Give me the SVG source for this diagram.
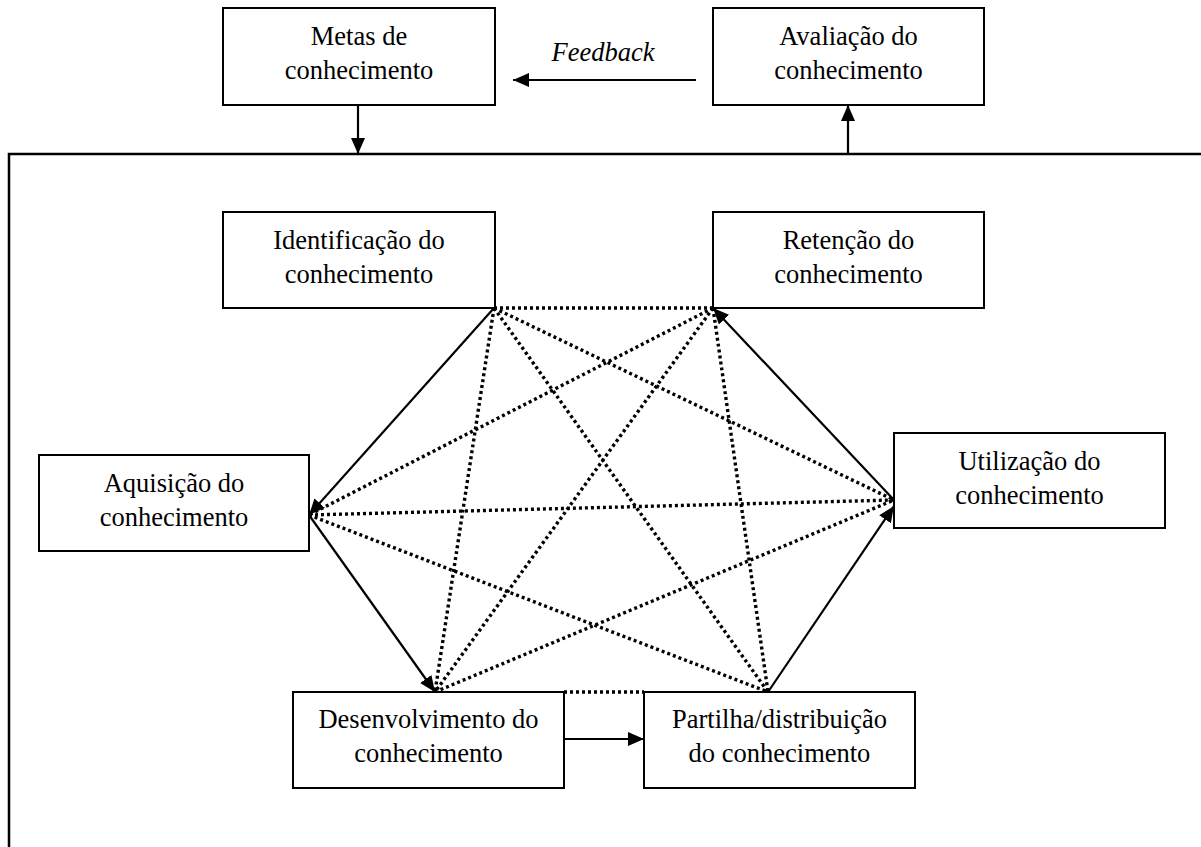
<svg xmlns="http://www.w3.org/2000/svg" width="1201" height="847" viewBox="0 0 1201 847">
<style>
.box{fill:#fff;stroke:#000;stroke-width:2}
.t{font-family:"Liberation Serif","Times New Roman",serif;font-size:26.5px;text-anchor:middle;fill:#000}
.it{font-style:italic}
.arr{stroke:#000;stroke-width:2.2;fill:none;marker-end:url(#ah)}
.dot{stroke:#000;stroke-width:3.4;stroke-dasharray:3 3;fill:none}
.frame{stroke:#000;stroke-width:2.5;fill:none}
</style>
<defs>
<marker id="ah" markerUnits="userSpaceOnUse" markerWidth="17" markerHeight="15" refX="16" refY="7" orient="auto">
<path d="M0,0 L16,7 L0,14 z" fill="#000"/>
</marker>
</defs>
<rect width="1201" height="847" fill="#fff"/>
<g id="frame">
<path class="frame" d="M9,847 L9,154 L1201,154"/>
</g>
<g id="connectors">
<line class="dot" x1="494" y1="308" x2="713" y2="308"/>
<line class="dot" x1="494" y1="308" x2="435" y2="692"/>
<line class="dot" x1="494" y1="308" x2="768" y2="692"/>
<line class="dot" x1="494" y1="308" x2="894" y2="500"/>
<line class="dot" x1="713" y1="308" x2="309" y2="515"/>
<line class="dot" x1="713" y1="308" x2="435" y2="692"/>
<line class="dot" x1="713" y1="308" x2="768" y2="692"/>
<line class="dot" x1="309" y1="515" x2="894" y2="500"/>
<line class="dot" x1="309" y1="515" x2="768" y2="692"/>
<line class="dot" x1="435" y1="692" x2="894" y2="500"/>
<line class="dot" x1="564" y1="692" x2="644" y2="692"/>
<line class="arr" x1="494" y1="308" x2="309" y2="515"/>
<line class="arr" x1="309" y1="515" x2="435" y2="692"/>
<line class="arr" x1="564" y1="739" x2="644" y2="739"/>
<line class="arr" x1="768" y1="692" x2="894" y2="506"/>
<line class="arr" x1="894" y1="500" x2="713" y2="308"/>
<line class="arr" x1="358" y1="105" x2="358" y2="154"/>
<line class="arr" x1="848" y1="154" x2="848" y2="105"/>
<line class="arr" x1="696" y1="80" x2="513" y2="80"/>
<text class="t it" x="603" y="61">Feedback</text>
</g>
<g id="metas">
<rect class="box" x="223" y="8" width="272" height="97"/>
<text class="t" x="359" y="45">Metas de</text>
<text class="t" x="359" y="79">conhecimento</text>
</g>
<g id="avaliacao">
<rect class="box" x="713" y="8" width="271" height="97"/>
<text class="t" x="848.5" y="45">Avaliação do</text>
<text class="t" x="848.5" y="79">conhecimento</text>
</g>
<g id="identificacao">
<rect class="box" x="223" y="212" width="272" height="96"/>
<text class="t" x="359" y="249">Identificação do</text>
<text class="t" x="359" y="283">conhecimento</text>
</g>
<g id="retencao">
<rect class="box" x="713" y="212" width="271" height="96"/>
<text class="t" x="848.5" y="249">Retenção do</text>
<text class="t" x="848.5" y="283">conhecimento</text>
</g>
<g id="aquisicao">
<rect class="box" x="39" y="455" width="270" height="96"/>
<text class="t" x="174" y="492">Aquisição do</text>
<text class="t" x="174" y="526">conhecimento</text>
</g>
<g id="utilizacao">
<rect class="box" x="894" y="433" width="271" height="95"/>
<text class="t" x="1029.5" y="470">Utilização do</text>
<text class="t" x="1029.5" y="504">conhecimento</text>
</g>
<g id="desenvolvimento">
<rect class="box" x="293" y="692" width="271" height="96"/>
<text class="t" x="428.5" y="728">Desenvolvimento do</text>
<text class="t" x="428.5" y="762">conhecimento</text>
</g>
<g id="partilha">
<rect class="box" x="644" y="692" width="271" height="96"/>
<text class="t" x="779.5" y="728">Partilha/distribuição</text>
<text class="t" x="779.5" y="762">do conhecimento</text>
</g>
</svg>
